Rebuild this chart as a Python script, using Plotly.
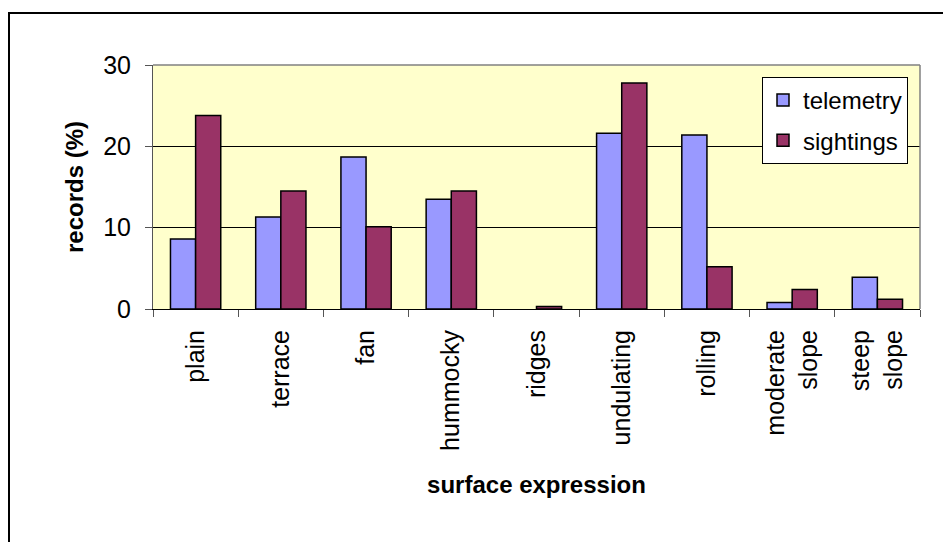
import plotly.graph_objects as go

categories = ["plain", "terrace", "fan", "hummocky", "ridges", "undulating",
              "rolling", "moderate<br>slope", "steep<br>slope"]
telemetry = [8.6, 11.3, 18.7, 13.5, 0.0, 21.6, 21.4, 0.8, 3.9]
sightings = [23.8, 14.5, 10.1, 14.5, 0.3, 27.8, 5.2, 2.4, 1.2]
y_ticks = [0, 10, 20, 30]

FONT = "Liberation Sans, Arial, sans-serif"

# hide outline of zero-height bars
tel_line_w = [0 if v == 0 else 1.5 for v in telemetry]

fig = go.Figure()
fig.add_trace(go.Bar(x=categories, y=telemetry, name="telemetry", legendgroup="t",
                     marker=dict(color="#9999FF", line=dict(color="black", width=tel_line_w))))
fig.add_trace(go.Bar(x=categories, y=sightings, name="sightings", legendgroup="s",
                     marker=dict(color="#993366", line=dict(color="black", width=1.5))))

L, R, T, B = 153, 23, 65, 233
W, H = 943, 542
pw, ph = W - L - R, H - T - B

fig.update_layout(
    width=W, height=H,
    margin=dict(l=L, r=R, t=T, b=B),
    paper_bgcolor="white",
    plot_bgcolor="#FFFFCC",
    barmode="group",
    bargap=0.41,
    bargroupgap=0,
    font=dict(family=FONT, size=24, color="black"),
    showlegend=True,
    legend=dict(x=(762 - L) / pw, y=(H - B - 77) / ph, xanchor="left", yanchor="top",
                bgcolor="white", bordercolor="black", borderwidth=1,
                font=dict(size=24), itemwidth=30, traceorder="grouped",
                tracegroupgap=6),
    xaxis=dict(
        tickangle=-90, ticks="outside", ticklen=7, tickcolor="#555",
        tickson="boundaries", showline=True, linecolor="black", linewidth=1,
        showgrid=False, mirror=False, ticklabelstandoff=10,
        title=dict(text="<b>surface expression</b>", font=dict(size=24), standoff=26),
        tickfont=dict(size=25),
    ),
    yaxis=dict(
        range=[0, 30], tickvals=y_ticks, ticks="outside", ticklen=7, tickcolor="#555",
        showline=True, linecolor="#555", linewidth=1, ticklabelstandoff=9,
        showgrid=True, gridcolor="black", gridwidth=1, zeroline=False,
        title=dict(text="<b>records (%)</b>", font=dict(size=24), standoff=12),
        tickfont=dict(size=25),
    ),
)

# plot area right/top border in gray
fig.add_shape(type="line", xref="paper", yref="paper", x0=0, x1=1, y0=1, y1=1,
              line=dict(color="#808080", width=1.5))
fig.add_shape(type="line", xref="paper", yref="paper", x0=1, x1=1, y0=0, y1=1,
              line=dict(color="#808080", width=1.5))
# outer chart border
fig.add_shape(type="rect", xref="paper", yref="paper",
              x0=(9 - L) / pw, x1=(W + 20 - L) / pw,
              y0=(H - B - (H + 20)) / ph, y1=(H - B - 13) / ph,
              line=dict(color="black", width=2), fillcolor="rgba(0,0,0,0)", layer="below")

fig.write_html("out.html", config={"displayModeBar": False},
               post_script="document.body.style.margin='0px';")
